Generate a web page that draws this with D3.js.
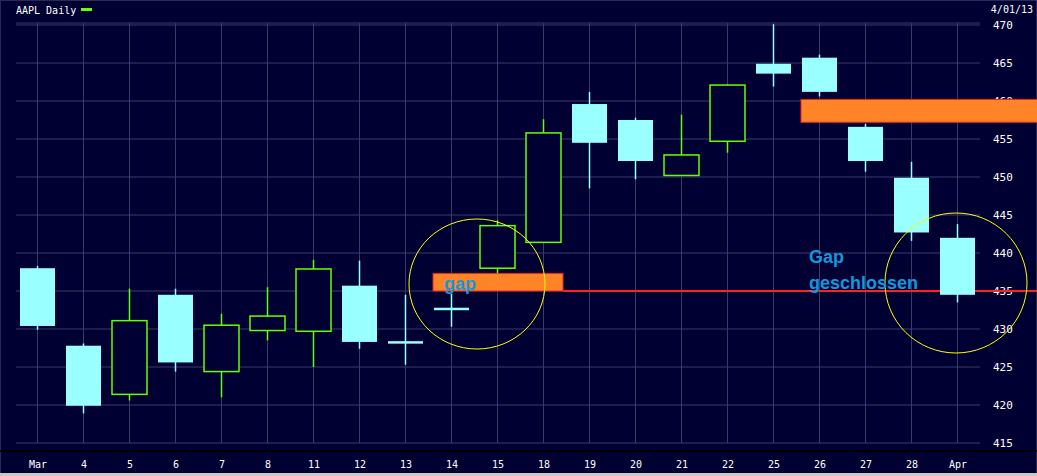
<!DOCTYPE html>
<html><head><meta charset="utf-8">
<script src="https://cdn.jsdelivr.net/npm/d3@7"></script>
<style>body{margin:0;background:#000033;overflow:hidden}</style>
</head><body><svg id="c" width="1037" height="476"></svg>
<script>
const dates = ["Mar","4","5","6","7","8","11","12","13","14","15","18","19","20","21","22","25","26","27","28","Apr"];
const opens  = [438.0,427.8,421.4,434.5,424.4,429.8,429.7,435.7,428.4,432.8,438.0,441.4,459.6,457.5,450.2,454.7,464.9,465.7,456.6,449.9,442.0];
const closes = [430.4,419.9,431.1,425.6,430.5,431.7,437.9,428.3,428.3,432.5,443.6,455.8,454.5,452.1,452.9,462.1,463.6,461.2,452.1,442.7,434.5];
const highs  = [438.3,428.1,435.3,435.3,432.0,435.5,439.1,439.0,434.5,434.6,444.3,457.6,461.2,457.8,458.2,462.2,470.1,466.1,457.0,452.0,443.8];
const lows   = [429.9,418.9,420.6,424.4,421.0,428.5,425.0,427.4,425.3,430.3,437.3,441.3,448.5,449.7,450.2,453.2,461.9,460.6,450.7,441.6,433.5];
const yTicks = [415,420,425,430,435,440,445,450,455,460,465,470];
const gaps = [{from:"14", to:"18", lo:435.0, hi:437.3}, {from:"26", to:null, lo:457.2, hi:460.2}];
const gapLine = 435.0;

const svg = d3.select("#c");
const W = 1037, H = 476;
const pLeft = 16, pRight = 980, pTop = 23, pBottom = 443;
const grid = "#3a3a6e", up = "#66ff00", down = "#99ffff";

const x = d3.scalePoint().domain(dates).range([37.5, 957.5]);
const y = d3.scaleLinear().domain([415, 470]).range([443, 25]);
const bw = 35;

svg.append("rect").attr("x", 0.5).attr("y", 0.5).attr("width", W - 1).attr("height", H - 1)
  .attr("fill", "#000033").attr("stroke", "#2a2a55");
svg.append("line").attr("x1", 0).attr("x2", W).attr("y1", 451).attr("y2", 451).attr("stroke", "#000").attr("stroke-width", 2);
svg.append("rect").attr("x", 0).attr("y", 473).attr("width", W).attr("height", 3).attr("fill", "#c8c8c8");

// grid
svg.append("g").selectAll("line").data(yTicks).join("line")
  .attr("x1", pLeft).attr("x2", pRight).attr("y1", d => y(d)).attr("y2", d => y(d)).attr("stroke", grid);
svg.append("line").attr("x1", pLeft).attr("x2", pRight).attr("y1", pTop).attr("y2", pTop).attr("stroke", grid);
svg.append("g").selectAll("line").data(dates).join("line")
  .attr("x1", d => x(d)).attr("x2", d => x(d)).attr("y1", pTop).attr("y2", pBottom).attr("stroke", grid);

// axes labels
const yAxis = d3.axisRight(y).tickValues(yTicks).tickSize(0).tickPadding(0);
const ga = svg.append("g").attr("transform", "translate(993,0)").call(yAxis);
ga.select(".domain").remove();
ga.selectAll("text").attr("fill", "#fff").attr("font-family", "DejaVu Sans Mono").attr("font-size", 11);
const xAxis = d3.axisBottom(x).tickSize(0).tickPadding(0);
const gx = svg.append("g").attr("transform", "translate(0,461)").call(xAxis);
gx.select(".domain").remove();
gx.selectAll("text").attr("fill", "#fff").attr("font-family", "DejaVu Sans Mono").attr("font-size", 10);

svg.append("text").attr("x", 16).attr("y", 14).attr("fill", "#fff").attr("font-family", "DejaVu Sans Mono")
  .attr("font-size", 10).text("AAPL Daily");
svg.append("rect").attr("x", 81).attr("y", 8).attr("width", 11).attr("height", 3).attr("fill", up);
svg.append("text").attr("x", 1033).attr("y", 13).attr("text-anchor", "end").attr("fill", "#fff")
  .attr("font-family", "DejaVu Sans Mono").attr("font-size", 10).text("4/01/13");

// gap boxes
svg.append("g").selectAll("rect").data(gaps).join("rect")
  .attr("x", d => x(d.from) - bw / 2 - 1)
  .attr("width", d => (d.to ? x(d.to) + bw / 2 + 2 : W + 2) - (x(d.from) - bw / 2 - 1))
  .attr("y", d => y(d.hi)).attr("height", d => y(d.lo) - y(d.hi))
  .attr("fill", "#ff8428").attr("stroke", "#ee2222").attr("stroke-width", 1);
svg.append("line").attr("x1", x("18") + bw / 2 + 2).attr("x2", W).attr("y1", y(gapLine)).attr("y2", y(gapLine))
  .attr("stroke", "#ff2020").attr("stroke-width", 2);

// candles
const idx = d3.range(dates.length);
const c = svg.append("g").selectAll("g").data(idx).join("g");
c.append("line").attr("x1", i => x(dates[i])).attr("x2", i => x(dates[i]))
  .attr("y1", i => y(highs[i])).attr("y2", i => y(lows[i]))
  .attr("stroke", i => closes[i] > opens[i] ? up : down).attr("stroke-width", 1.5);
c.append("rect").attr("x", i => x(dates[i]) - bw / 2)
  .attr("width", bw)
  .attr("y", i => y(Math.max(opens[i], closes[i])))
  .attr("height", i => Math.max(2.5, Math.abs(y(opens[i]) - y(closes[i]))))
  .attr("fill", i => closes[i] > opens[i] ? "#000033" : down)
  .attr("stroke", i => closes[i] > opens[i] ? up : "none").attr("stroke-width", 1.5);

// annotations
svg.append("ellipse").attr("cx", 477).attr("cy", 284).attr("rx", 68).attr("ry", 65)
  .attr("fill", "none").attr("stroke", "#ffff00").attr("stroke-width", 1);
svg.append("ellipse").attr("cx", 956).attr("cy", 283).attr("rx", 71).attr("ry", 70)
  .attr("fill", "none").attr("stroke", "#ffff00").attr("stroke-width", 1);
const lab = { fill: "#1199dd", "font-family": "Liberation Sans", "font-weight": "bold", "font-size": 18 };
const t1 = svg.append("text").attr("x", 444).attr("y", 290).text("gap");
const t2 = svg.append("text").attr("x", 809).attr("y", 263).text("Gap");
const t3 = svg.append("text").attr("x", 809).attr("y", 289).text("geschlossen");
[t1, t2, t3].forEach(t => Object.entries(lab).forEach(([k, v]) => t.attr(k, v)));
</script></body></html>
